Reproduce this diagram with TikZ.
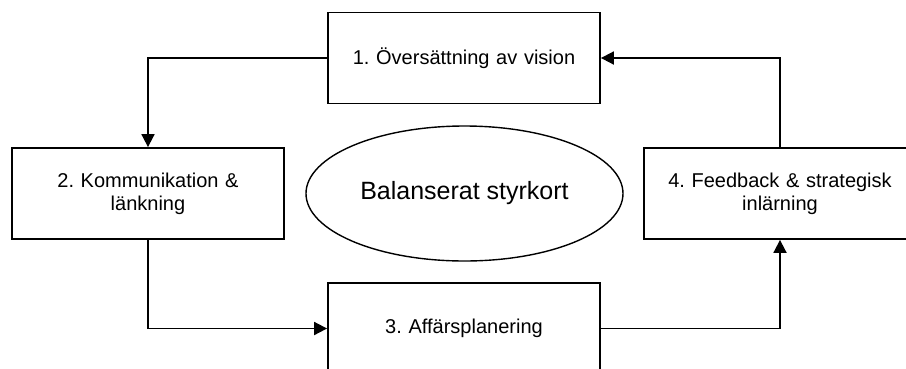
\documentclass[tikz,border=0pt]{standalone}
\usepackage{fontspec}
\setmainfont{Liberation Sans}
\usetikzlibrary{arrows.meta,shapes.geometric}
\frenchspacing

\tikzset{
  stepbox/.style={draw=black, line width=1.8pt, fill=white, minimum width=272pt,
    minimum height=91pt, inner sep=0pt, align=center,
    font=\fontsize{20}{23}\selectfont, text width=240pt},
  hub/.style={draw=black, line width=1.4pt, ellipse, minimum width=317pt,
    minimum height=135pt, inner sep=0pt, font=\fontsize{25}{30}\selectfont},
  flow/.style={draw=black, line width=1.8pt, -{Triangle[length=13pt,width=13pt]}}
}

\begin{document}
\begin{tikzpicture}[x=1pt, y=-1pt]
  \useasboundingbox (0,0) rectangle (906,368);
  \clip (0,0) rectangle (906,368);
  \fill[white] (0,0) rectangle (906,368);

  % the four steps of the cycle
  \node[stepbox] (b1) at (464,58)    {1. Översättning av vision};
  \node[stepbox] (b2) at (148,193.5) {2. Kommunikation \&\\länkning};
  \node[stepbox] (b3) at (464,328.5) {3. Affärsplanering};
  \node[stepbox] (b4) at (780,193.5) {4. Feedback \& strategisk\\inlärning};

  % centre
  \node[hub] (c) at (464.5,193.5) {Balanserat styrkort};

  % cycle connectors
  \draw[flow] (b1.west) -| (b2.north);
  \draw[flow] (b2.south) |- (b3.west);
  \draw[flow] (b3.east) -| (b4.south);
  \draw[flow] (b4.north) |- (b1.east);
\end{tikzpicture}
\end{document}
